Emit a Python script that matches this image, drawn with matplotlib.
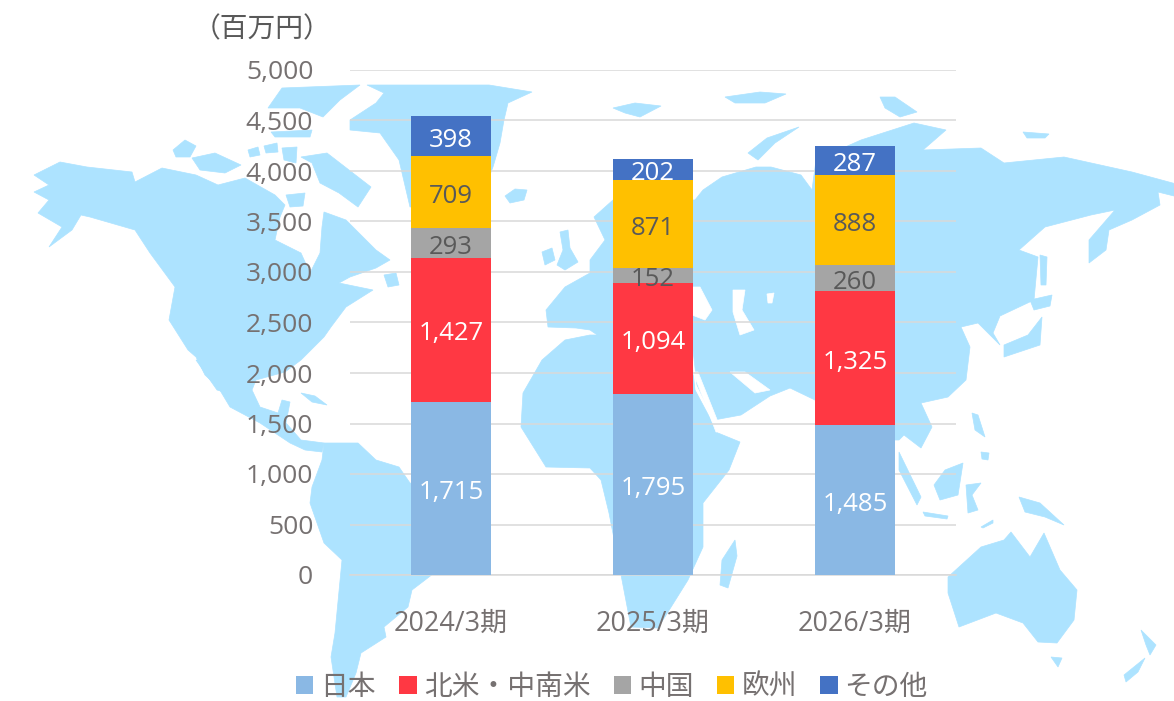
import matplotlib
matplotlib.use('Agg')
import matplotlib.pyplot as plt
from matplotlib.patches import Polygon

plt.rcParams['font.family'] = ['Open Sans', 'Noto Sans CJK JP', 'DejaVu Sans']

# Chart data
periods = ['2024/3期', '2025/3期', '2026/3期']
japan = [1715, 1795, 1485]
americas = [1427, 1094, 1325]
china = [293, 152, 260]
europe = [709, 871, 888]
others = [398, 202, 287]
series_names = ['日本', '北米・中南米', '中国', '欧州', 'その他']
y_ticks = [0, 500, 1000, 1500, 2000, 2500, 3000, 3500, 4000, 4500, 5000]

MAP_BLUE = '#ADE3FF'
GREY_TEXT = '#767171'

# Background world map, rough outlines in image pixels
north_america = [(34,175),(60,162),(87,167),(132,172),(135,182),(162,168),(196,175),(218,185),(245,178),
                 (275,195),(285,205),(280,217),(275,240),(301,253),(310,273),(320,253),(322,227),(324,212),
                 (346,220),(376,250),(390,260),(376,268),(350,277),(339,283),(373,290),(346,307),(331,327),
                 (324,337),(301,360),(285,372),(256,380),(252,390),(260,407),(278,413),(282,400),(290,402),
                 (286,423),(301,440),(324,443),(322,452),(305,450),(290,443),(260,423),(230,407),(218,387),
                 (205,375),(196,357),(188,350),(169,320),(175,287),(150,253),(135,230),(90,217),(81,215),
                 (72,230),(49,247),(62,227),(38,213),(49,200),(34,192),(49,185)]
baja = [(196,360),(203,360),(224,392),(217,390)]
south_america = [(324,443),(358,443),(376,460),(399,467),(410,483),(440,490),(485,510),(470,545),(429,577),
                 (412,590),(408,607),(384,627),(386,637),(361,653),(356,673),(346,697),(337,697),(331,657),
                 (335,633),(342,560),(324,543),(310,503),(312,487),(322,460)]
greenland = [(367,85),(489,85),(532,92),(508,103),(504,120),(500,143),(493,167),(480,200),(410,207),(399,160),
             (380,133),(350,130),(350,120),(376,103),(384,93)]
ellesmere = [(282,88),(360,85),(340,100),(323,117),(300,108),(268,108)]
baffin = [(301,157),(327,153),(371,187),(358,207),(339,193),(320,183),(312,163)]
banks = [(173,150),(185,140),(196,146),(190,157),(176,157)]
victoria = [(192,158),(215,153),(241,165),(225,173),(200,170)]
arctic_a = [(248,150),(258,147),(260,155),(250,157)]
arctic_b = [(264,146),(277,143),(278,152),(266,153)]
arctic_c = [(282,148),(297,147),(296,163),(284,160)]
devon = [(271,132),(312,130),(310,137),(275,137)]
southampton = [(286,195),(305,193),(303,206),(290,207)]
newfoundland = [(384,275),(396,273),(399,285),(388,287)]
cuba = [(301,393),(315,396),(327,405),(312,402)]
iceland = [(505,196),(515,189),(527,190),(524,200),(510,203)]
britain = [(560,232),(568,230),(570,248),(578,262),(565,270),(557,265),(563,250)]
ireland = [(542,252),(552,248),(555,260),(545,265)]
eurasia = [(594,217),(613,200),(695,200),(703,190),(722,177),(756,167),(771,167),(801,175),(812,190),
           (816,160),(861,140),(914,123),(946,130),(923,150),(981,148),(1004,163),(1064,157),(1132,172),
           (1180,185),(1174,196),(1158,192),(1160,205),(1132,220),(1109,230),(1106,250),(1089,263),
           (1089,240),(1115,210),(1091,215),(1045,227),(1019,250),(1038,257),(1034,300),(1000,316),
           (993,333),(1000,345),(978,323),(961,327),(970,347),(966,380),(948,397),(921,403),(932,427),
           (921,448),(904,435),(899,440),(860,440),(840,470),(815,400),(790,388),(770,396),(741,415),
           (714,420),(697,385),(693,350),(660,345),(612,345),(590,330),(576,328),(548,327),(546,310),
           (565,287),(590,273),(590,260),(605,240)]
novaya = [(748,153),(767,138),(799,127),(775,143),(758,160)]
africa = [(695,390),(718,433),(740,442),(729,470),(703,503),(703,547),(688,580),(658,628),(631,627),(622,580),
          (609,513),(601,480),(590,468),(546,467),(521,427),(523,393),(542,360),(565,340),(590,335),(640,335),
          (690,345)]
madagascar = [(735,540),(737,556),(728,588),(720,585),(722,560)]
australia = [(948,577),(981,547),(1004,540),(1011,532),(1030,557),(1044,533),(1060,570),(1077,590),(1074,620),
             (1057,643),(1038,642),(1023,623),(996,613),(959,627),(948,593)]
tasmania = [(1051,657),(1062,658),(1058,667)]
nz_north = [(1141,630),(1156,645),(1150,655),(1146,645)]
nz_south = [(1145,658),(1138,672),(1126,682),(1124,675)]
sumatra = [(899,452),(921,497),(917,505),(899,470)]
borneo = [(963,463),(958,495),(940,500),(934,485),(945,470)]
java = [(923,512),(948,516),(947,519),(925,516)]
sulawesi = [(966,485),(981,483),(972,495),(978,510),(968,513)]
new_guinea = [(1019,497),(1040,503),(1064,525),(1045,517),(1025,512)]
luzon = [(972,413),(978,415),(985,437),(975,430)]
mindanao = [(981,452),(989,453),(988,460),(982,459)]
timor = [(981,527),(993,520),(993,523),(983,528)]
japan_isles = [(1042,317),(1040,345),(1004,357),(1004,345),(1028,335)]
hokkaido = [(1030,300),(1052,295),(1050,306),(1034,310)]
sakhalin = [(1040,255),(1047,257),(1046,285),(1041,285)]
svalbard = [(613,108),(635,103),(661,106),(640,117),(625,113)]
franz_josef = [(725,97),(760,92),(786,94),(765,103),(735,103)]
severnaya = [(880,97),(895,97),(917,112),(900,117),(885,108)]
siberian_isles = [(1023,132),(1049,134),(1045,138),(1027,138)]

map_shapes = [north_america, baja, south_america, greenland, ellesmere, baffin, banks, victoria, arctic_a,
              arctic_b, arctic_c, devon, southampton, newfoundland, cuba, iceland, britain, ireland, eurasia,
              novaya, africa, madagascar, australia, tasmania, nz_north, nz_south, sumatra, borneo, java,
              sulawesi, new_guinea, luzon, mindanao, timor, japan_isles, hokkaido, sakhalin, svalbard,
              franz_josef, severnaya, siberian_isles]

# Inland seas and gulfs cut out of the land
black_sea = [(692,287),(700,287),(712,310),(705,320),(692,315)]
caspian = [(733,290),(745,290),(742,310),(754,330),(740,335),(733,312)]
aral = [(767,294),(774,293),(772,303),(768,303)]
persian_gulf = [(730,372),(745,372),(770,390),(755,393)]
red_sea = [(693,372),(698,372),(722,432),(716,432)]
water_shapes = [black_sea, caspian, aral, persian_gulf, red_sea]

fig = plt.figure(figsize=(11.74, 7.01), dpi=100)

bg = fig.add_axes([0, 0, 1, 1])
bg.set_xlim(0, 1174)
bg.set_ylim(701, 0)
bg.axis('off')
for shape in map_shapes:
    bg.add_patch(Polygon(shape, closed=True, facecolor=MAP_BLUE, edgecolor=MAP_BLUE, linewidth=0.5))
for shape in water_shapes:
    bg.add_patch(Polygon(shape, closed=True, facecolor='white', edgecolor='white', linewidth=0.5))

# Plot area: 350..956 px wide, y=0 at 575 px and y=5000 at 70 px
ax = fig.add_axes([350 / 1174, 1 - 575 / 701, 606 / 1174, 505 / 701])
ax.patch.set_alpha(0)

x = range(len(periods))
colors = ['#8AB8E4', '#FF3843', '#A5A5A5', '#FFC000', '#4472C4']
label_colors = ['white', 'white', '#595959', '#595959', 'white']
bottom = [0, 0, 0]
for values, name, color, label_color in zip([japan, americas, china, europe, others], series_names,
                                            colors, label_colors):
    bars = ax.bar(x, values, width=0.4, bottom=bottom, color=color, label=name, zorder=3)
    ax.bar_label(bars, labels=[f'{v:,}' for v in values], label_type='center', color=label_color,
                 fontsize=18.5, padding=-3, zorder=4)
    bottom = [b + v for b, v in zip(bottom, values)]

ax.set_xlim(-0.5, 2.5)
ax.set_ylim(0, 5000)
ax.set_yticks(y_ticks)
ax.set_yticklabels([f'{t:,}' for t in y_ticks])
ax.set_xticks(list(x))
ax.set_xticklabels(periods)
ax.grid(axis='y', color='#D9D9D9', linewidth=1.1, zorder=1)
ax.set_axisbelow(True)
ax.tick_params(axis='y', length=0, pad=26.5, labelsize=19, labelcolor=GREY_TEXT)
ax.tick_params(axis='x', length=0, pad=25, labelsize=19.4, labelcolor=GREY_TEXT)
for side in ['top', 'right', 'left']:
    ax.spines[side].set_visible(False)
ax.spines['bottom'].set_color('#D9D9D9')
ax.spines['bottom'].set_linewidth(1.1)

fig.text(262 / 1174, 1 - 30 / 701, '（百万円）', fontsize=20, color='#595959', ha='center', va='center')

fig.legend(loc='center', bbox_to_anchor=(612 / 1174, 1 - 688 / 701), ncol=5, frameon=False, fontsize=20,
           labelcolor=GREY_TEXT, handlelength=0.62, handleheight=0.62, handletextpad=0.25, columnspacing=0.85,
           borderpad=0)

fig.savefig('out.png', dpi=100)
